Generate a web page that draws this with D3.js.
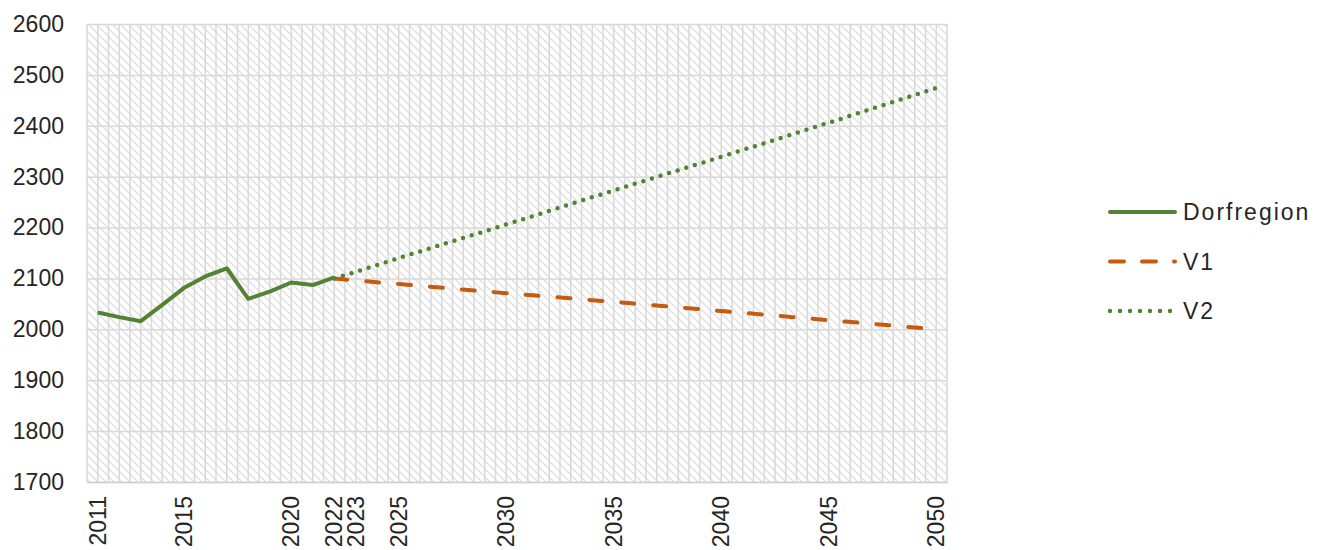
<!DOCTYPE html>
<html lang="de">
  <head>
    <meta charset="UTF-8" />
    <title>Dorfregion</title>
    <style>
      body { margin: 0; background: #fff; }
      text { font-family: "Liberation Sans", Arial, sans-serif; fill: #262626; }
    </style>
  </head>
  <body>
    <div id="chart"></div>

    <script src="https://d3js.org/d3.v7.min.js"></script>

    <script>
      // categories (years on the x axis)
      const years = d3.range(2011, 2051);
      const xTickLabels = [2011, 2015, 2020, 2022, 2023, 2025, 2030, 2035, 2040, 2045, 2050];
      const yTickLabels = [1700, 1800, 1900, 2000, 2100, 2200, 2300, 2400, 2500, 2600];

      // series
      const dorfYears  = [2011, 2012, 2013, 2014, 2015, 2016, 2017, 2018, 2019, 2020, 2021, 2022];
      const dorfValues = [2033, 2024, 2016, 2048, 2081, 2104, 2120, 2060, 2074, 2092, 2087, 2102];

      const vYears   = [2022, 2023, 2025, 2030, 2035, 2040, 2045, 2050];
      const v1Values = [2100, 2096, 2089, 2071, 2054, 2036, 2018, 2000];
      const v2Values = [2100, 2113, 2140, 2206, 2273, 2339, 2406, 2474];

      const seriesNames = ["Dorfregion", "V1", "V2"];

      const width = 1325;
      const height = 550;
      const marginLeft = 87, marginRight = 378, marginTop = 24, marginBottom = 68;
      const green = "#548235";
      const orange = "#c55a11";
      const grid = "#d9d9d9";

      const svg = d3.select("#chart").append("svg")
          .attr("width", width)
          .attr("height", height)
          .attr("viewBox", [0, 0, width, height]);

      const x = d3.scaleBand(years, [marginLeft, width - marginRight]);
      const bw = x.bandwidth();
      const xc = d => x(d) + bw / 2;
      const y = d3.scaleLinear([1700, 2600], [height - marginBottom, marginTop]);

      // hatch fill of the plot area
      const pat = svg.append("defs").append("pattern")
          .attr("id", "hatch")
          .attr("patternUnits", "userSpaceOnUse")
          .attr("width", 8)
          .attr("height", 8);
      pat.append("rect").attr("width", 8).attr("height", 8).attr("fill", "#fff");
      pat.append("path")
          .attr("d", "M0,0L8,8M-4,4L4,12M4,-4L12,4")
          .attr("stroke", "#e2e2e2")
          .attr("stroke-width", 1.5);

      svg.append("rect")
          .attr("x", marginLeft)
          .attr("y", marginTop)
          .attr("width", width - marginRight - marginLeft)
          .attr("height", height - marginBottom - marginTop)
          .attr("fill", "url(#hatch)");

      // vertical grid: band edges and band centres
      const vLines = [];
      years.forEach(d => { vLines.push(x(d)); vLines.push(xc(d)); });
      vLines.push(width - marginRight);
      svg.append("g")
          .selectAll("line")
          .data(vLines)
          .join("line")
            .attr("x1", d => d).attr("x2", d => d)
            .attr("y1", marginTop).attr("y2", height - marginBottom)
            .attr("stroke", grid)
            .attr("stroke-width", 1.5);

      // y axis with horizontal grid
      svg.append("g")
          .attr("transform", `translate(${marginLeft},0)`)
          .call(d3.axisLeft(y).tickValues(yTickLabels).tickSize(0).tickPadding(23).tickFormat(d3.format("d")))
          .call(g => g.select(".domain").remove())
          .call(g => g.selectAll(".tick text").attr("font-size", 23).attr("font-family", null).attr("fill", null))
          .call(g => g.selectAll(".tick line").clone()
              .attr("x2", width - marginLeft - marginRight)
              .attr("stroke", grid)
              .attr("stroke-width", 1.5));

      // x axis (rotated labels)
      svg.append("g")
          .attr("transform", `translate(0,${height - marginBottom})`)
          .call(d3.axisBottom(x).tickValues(xTickLabels).tickSize(0).tickSizeOuter(0))
          .call(g => g.select(".domain").attr("stroke", "#cfcfcf").attr("stroke-width", 1.5))
          .call(g => g.selectAll(".tick text")
              .attr("font-size", 23)
              .attr("font-family", null)
              .attr("fill", null)
              .attr("text-anchor", "end")
              .attr("dy", "0.35em")
              .attr("transform", "translate(0,14) rotate(-90)")
              .attr("y", 0)
              .attr("x", 0));

      const line = d3.line().x(d => xc(d[0])).y(d => y(d[1]));

      svg.append("path")
          .datum(d3.zip(vYears, v1Values))
          .attr("fill", "none")
          .attr("stroke", orange)
          .attr("stroke-width", 4)
          .attr("stroke-linecap", "round")
          .attr("stroke-dasharray", "13,19")
          .attr("d", line);

      svg.append("path")
          .datum(d3.zip(vYears, v2Values))
          .attr("fill", "none")
          .attr("stroke", green)
          .attr("stroke-width", 4.5)
          .attr("stroke-linecap", "round")
          .attr("stroke-dasharray", "0,9")
          .attr("d", line);

      svg.append("path")
          .datum(d3.zip(dorfYears, dorfValues))
          .attr("fill", "none")
          .attr("stroke", green)
          .attr("stroke-width", 4)
          .attr("stroke-linejoin", "round")
          .attr("d", line);

      // legend
      const legendStyles = [
        { stroke: green, width: 4, dash: null },
        { stroke: orange, width: 4, dash: "14,18" },
        { stroke: green, width: 4.5, dash: "0,10" }
      ];
      const legend = svg.append("g").attr("transform", "translate(1110,212)");
      const item = legend.selectAll("g")
          .data(seriesNames)
          .join("g")
            .attr("transform", (d, i) => `translate(0,${i * 49.5})`);
      item.append("line")
          .attr("x1", 0).attr("x2", 65)
          .attr("stroke", (d, i) => legendStyles[i].stroke)
          .attr("stroke-width", (d, i) => legendStyles[i].width)
          .attr("stroke-linecap", "round")
          .attr("stroke-dasharray", (d, i) => legendStyles[i].dash);
      item.append("text")
          .attr("x", 73)
          .attr("dy", "0.35em")
          .attr("font-size", 23)
          .attr("letter-spacing", 2)
          .text(d => d);
    </script>
  </body>
</html>
